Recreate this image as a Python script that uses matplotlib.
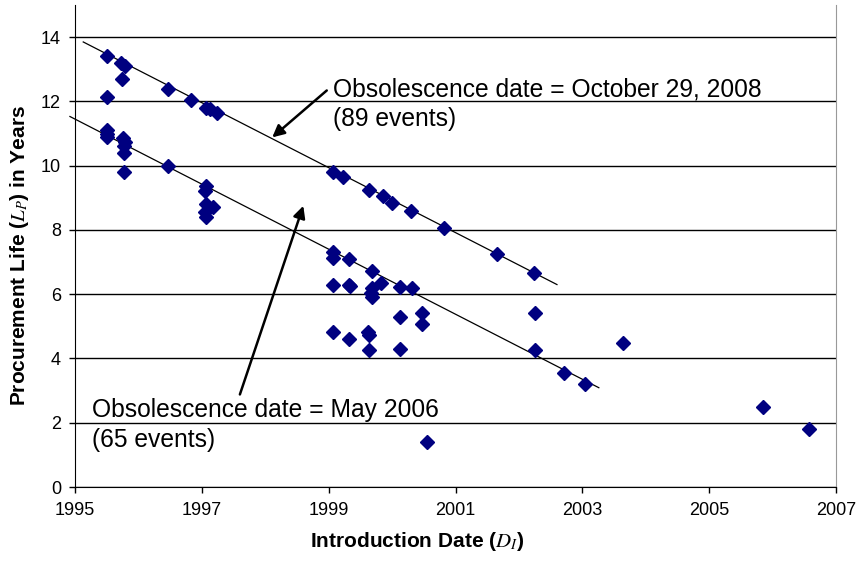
import matplotlib
matplotlib.use('Agg')
import matplotlib.pyplot as plt

plt.rcParams['font.family'] = ['Liberation Sans', 'DejaVu Sans']
plt.rcParams['mathtext.fontset'] = 'stix'

# events: introduction date vs. procurement life (years)
intro_date = [1995.50, 1995.73, 1995.79, 1995.74, 1995.50, 1996.47, 1996.83,
              1997.07, 1997.13, 1997.24, 1999.07, 1999.23, 1999.64, 1999.86,
              2000.00, 2000.30, 2000.82, 2001.65, 2002.24,
              1995.50, 1995.50, 1995.50, 1995.76, 1995.79, 1995.77, 1995.77,
              1995.78, 1996.47, 1997.07, 1997.05, 1997.07, 1997.05, 1997.07,
              1997.18, 1999.07, 1999.07, 1999.32, 1999.68, 1999.07, 1999.32,
              1999.34, 1999.68, 1999.82, 1999.66, 1999.68, 2000.12, 2000.31,
              2000.12, 2000.47, 2000.47, 1999.07, 1999.32, 1999.62, 1999.63,
              1999.64, 2000.12, 2000.55, 2002.25, 2002.25, 2002.71, 2003.04,
              2003.64, 2005.85, 2006.57]
proc_life = [13.40, 13.20, 13.10, 12.70, 12.15, 12.40, 12.05,
             11.80, 11.75, 11.65, 9.80, 9.65, 9.25, 9.05,
             8.85, 8.58, 8.05, 7.25, 6.65,
             11.10, 11.00, 10.88, 10.85, 10.75, 10.62, 10.38,
             9.80, 10.00, 9.38, 9.20, 8.80, 8.55, 8.40,
             8.70, 7.30, 7.12, 7.08, 6.72, 6.28, 6.30,
             6.25, 6.20, 6.35, 6.05, 5.90, 6.22, 6.20,
             5.28, 5.40, 5.06, 4.82, 4.60, 4.82, 4.72,
             4.25, 4.30, 1.40, 5.40, 4.25, 3.55, 3.20,
             4.47, 2.50, 1.80]

# fitted obsolescence lines (end points)
oct2008_x = [1995.13, 2002.60]
oct2008_y = [13.85, 6.30]
may2006_x = [1994.92, 2003.26]
may2006_y = [11.53, 3.09]

fig = plt.figure(figsize=(8.56, 5.65), dpi=100)
ax = fig.add_axes([75/856, 1-487/565, (836-75)/856, (487-5)/565])

ax.set_xlim(1995, 2007)
ax.set_ylim(0, 15)
ax.set_xticks(range(1995, 2008, 2))
ax.set_yticks(range(0, 15, 2))
ax.tick_params(axis='x', labelsize=13, direction='out', length=4, width=1, pad=7)
ax.tick_params(axis='y', labelsize=13, direction='out', length=4, width=1, pad=6)
ax.yaxis.grid(True, color='black', lw=1)
ax.set_axisbelow(True)
ax.spines['top'].set_visible(False)
ax.spines['right'].set_color('#999999')

ax.plot(oct2008_x, oct2008_y, color='black', lw=0.9, clip_on=False)
ax.plot(may2006_x, may2006_y, color='black', lw=0.9, clip_on=False)
ax.plot(intro_date, proc_life, 'D', color='#000080', ms=7.5, ls='none',
        clip_on=False, zorder=3)

ax.text(1999.07, 12.16, 'Obsolescence date = October 29, 2008', fontsize=17.7)
ax.text(1999.07, 11.22, '(89 events)', fontsize=17.7)
ax.text(1995.27, 2.19, 'Obsolescence date = May 2006', fontsize=17.7)
ax.text(1995.27, 1.25, '(65 events)', fontsize=17.7)

arrow = dict(arrowstyle='-|>', color='black', lw=1.8, mutation_scale=18,
             shrinkA=0, shrinkB=0)
ax.annotate('', xy=(1998.11, 10.88), xytext=(1998.97, 12.34), arrowprops=arrow)
ax.annotate('', xy=(1998.60, 8.75), xytext=(1997.60, 2.88), arrowprops=arrow)

ax.set_xlabel(r'Introduction Date ($D_I$)', fontsize=15, fontweight='bold')
ax.set_ylabel(r'Procurement Life ($L_P$) in Years', fontsize=15,
              fontweight='bold')
ax.xaxis.set_label_coords(0.45, -0.09)
ax.yaxis.set_label_coords(-0.058, 0.48)

fig.savefig('out.png', dpi=100)
